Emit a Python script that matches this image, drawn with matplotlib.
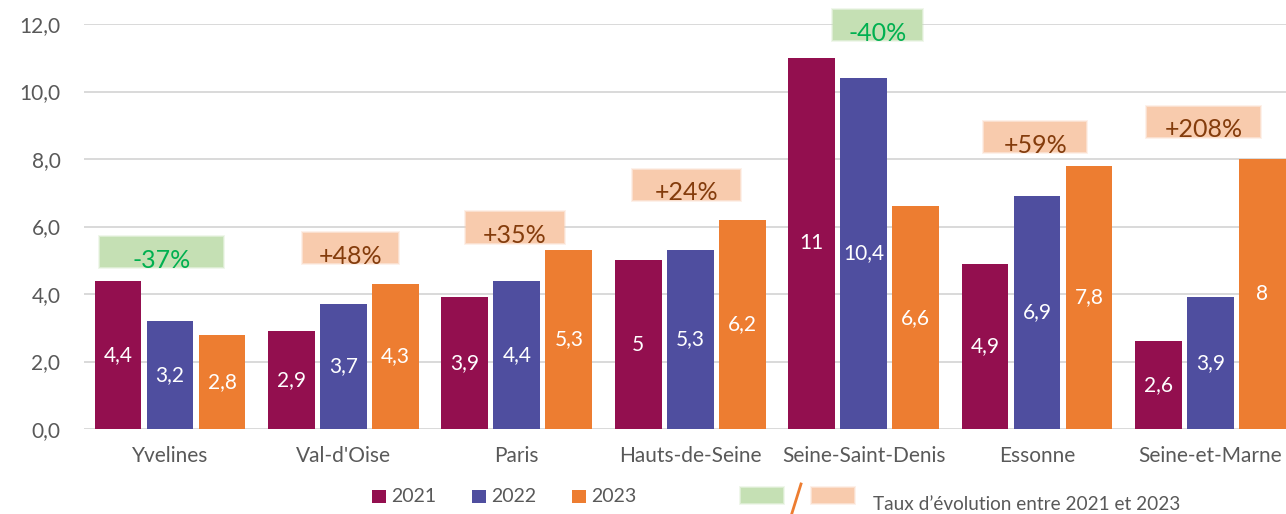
import matplotlib
matplotlib.use("Agg")
import matplotlib.pyplot as plt
from matplotlib.patches import Rectangle
from matplotlib.lines import Line2D
import numpy as np

# ---------------- data ----------------
categories = ["Yvelines", "Val-d'Oise", "Paris", "Hauts-de-Seine",
              "Seine-Saint-Denis", "Essonne", "Seine-et-Marne"]
years = ["2021", "2022", "2023"]
v2021 = [4.4, 2.9, 3.9, 5.0, 11.0, 4.9, 2.6]
v2022 = [3.2, 3.7, 4.4, 5.3, 10.4, 6.9, 3.9]
v2023 = [2.8, 4.3, 5.3, 6.2, 6.6, 7.8, 8.0]
evolution = ["-37%", "+48%", "+35%", "+24%", "-40%", "+59%", "+208%"]
yticks = [0, 2, 4, 6, 8, 10, 12]

# ---------------- styles / layout ----------------
colors = ["#930F4F", "#4F4E9F", "#ED7D31"]
green_box, green_txt = "#C5E0B4", "#00B050"
orange_box, orange_txt = "#F8CBAD", "#843C0C"
grid_col = "#D9D9D9"
txt_col = "#595959"
FONT = ["Lato", "DejaVu Sans"]
plt.rcParams["font.family"] = FONT

W, H = 1286, 514
fig = plt.figure(figsize=(W / 100, H / 100), dpi=100)
ax = fig.add_axes([84 / W, 1 - 429 / H, (W - 84) / W, (429 - 24) / H])

x = np.arange(len(categories))
bw = 0.27
step = 0.30
series = [v2021, v2022, v2023]
for i, vals in enumerate(series):
    bars = ax.bar(x + (i - 1) * step, vals, width=bw, color=colors[i], zorder=3)
    for b, v in zip(bars, vals):
        lab = f"{v:g}".replace(".", ",")
        ax.text(b.get_x() + b.get_width() / 2, v / 2, lab, ha="center", va="center",
                color="white", fontsize=15, zorder=4)

ax.set_xlim(-0.496, 6.436)
ax.set_ylim(0, 12)
ax.set_yticks(yticks)
ax.set_yticklabels([f"{t:.1f}".replace(".", ",") for t in yticks])
ax.set_xticks(x)
ax.set_xticklabels(categories)
ax.tick_params(axis="both", length=0, colors=txt_col, labelsize=15)
ax.tick_params(axis="y", pad=17)
ax.tick_params(axis="x", pad=12)
ax.yaxis.grid(True, color=grid_col, lw=1.4, zorder=0)
for s in ax.spines.values():
    s.set_visible(False)

# evolution boxes (layout: x offset, box centre y, box width)
box_dx = [-0.05, 0.04, -0.01, -0.02, 0.08, -0.01, -0.04]
box_cy = [5.24, 5.36, 5.97, 7.24, 11.97, 8.65, 9.10]
box_w = [0.71, 0.55, 0.565, 0.62, 0.51, 0.59, 0.65]
box_h = 0.89
pxx = 1 / 173.4   # one pixel in x data units
pxy = 1 / 33.75   # one pixel in y data units
for i, lab in enumerate(evolution):
    neg = lab.startswith("-")
    fc = green_box if neg else orange_box
    tc = green_txt if neg else orange_txt
    cx = x[i] + box_dx[i]
    # soft edges
    for k, a in [(2, 0.25), (1, 0.45), (0, 1.0)]:
        ax.add_patch(Rectangle((cx - box_w[i] / 2 - k * pxx, box_cy[i] - box_h / 2 - k * pxy),
                               box_w[i] + 2 * k * pxx, box_h + 2 * k * pxy, facecolor=fc,
                               edgecolor="none", alpha=a, zorder=5, clip_on=False))
    ax.text(cx, box_cy[i] - 0.24, lab, ha="center", va="center", color=tc,
            fontsize=18, zorder=6, clip_on=False)

# ---------------- legend (manual) ----------------
def fx(px):
    return px / W

def fy(py):
    return 1 - py / H

sq_x = [372, 472, 572]
for i, yr in enumerate(years):
    fig.add_artist(Rectangle((fx(sq_x[i]), fy(503)), 14 / W, 13 / H,
                             transform=fig.transFigure, facecolor=colors[i], edgecolor="none"))
    fig.text(fx(sq_x[i] + 19), fy(496), yr, ha="left", va="center", color=txt_col, fontsize=14)

for x0, fc in [(741, green_box), (812, orange_box)]:
    for k, a in [(2, 0.25), (1, 0.45), (0, 1.0)]:
        fig.add_artist(Rectangle((fx(x0 - k), fy(503 + k)), (42 + 2 * k) / W, (15 + 2 * k) / H,
                                 transform=fig.transFigure, facecolor=fc, edgecolor="none", alpha=a))
fig.add_artist(Line2D([fx(801), fx(792)], [fy(484), fy(513)], transform=fig.transFigure,
                      color="#ED7D31", lw=2))
fig.text(fx(873), fy(505), "Taux d\u2019évolution entre 2021 et 2023", ha="left", va="center",
         color=txt_col, fontsize=13.7)

fig.savefig("out.png", dpi=100)
